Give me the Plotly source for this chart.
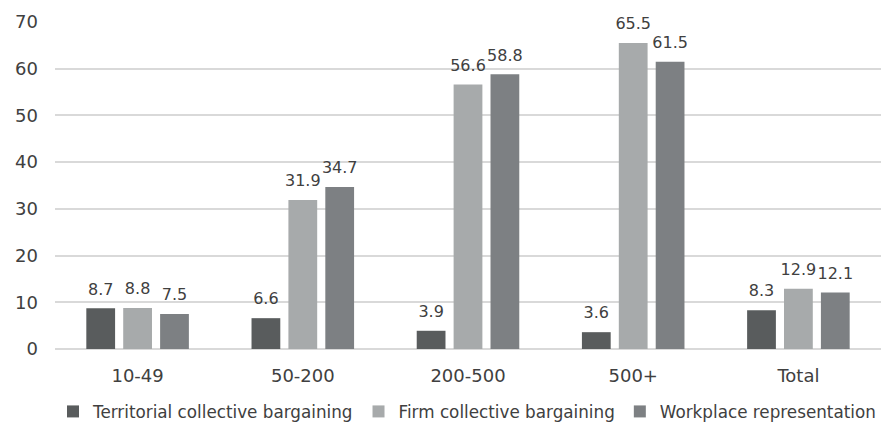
import plotly.graph_objects as go

categories = ["10-49", "50-200", "200-500", "500+", "Total"]
territorial = [8.7, 6.6, 3.9, 3.6, 8.3]
firm = [8.8, 31.9, 56.6, 65.5, 12.9]
workplace = [7.5, 34.7, 58.8, 61.5, 12.1]
series_names = ["Territorial collective bargaining", "Firm collective bargaining", "Workplace representation"]
colors = ["#595c5d", "#a7aaab", "#7d8083"]

font_family = "DejaVu Sans, Noto Sans, sans-serif"
text_color = "#404040"

fig = go.Figure()
for i, (name, vals, col) in enumerate(zip(series_names, [territorial, firm, workplace], colors)):
    fig.add_trace(go.Bar(
        x=categories, y=vals, name=name,
        marker=dict(color=col, line=dict(width=0)),
        offsetgroup=str(i), hoverinfo="skip",
    ))
for i, vals in enumerate([territorial, firm, workplace]):
    fig.add_trace(go.Scatter(
        x=categories, y=vals, mode="markers+text",
        marker=dict(size=14, color="rgba(0,0,0,0)"),
        text=[f"{v:.1f}" for v in vals],
        textposition="top center",
        textfont=dict(size=16, color=text_color, family=font_family),
        offsetgroup=str(i), showlegend=False, hoverinfo="skip",
        cliponaxis=False,
    ))

fig.update_layout(
    width=881, height=429,
    margin=dict(l=55, r=0, t=22, b=79),
    paper_bgcolor="white", plot_bgcolor="white",
    barmode="group", bargap=0.33, bargroupgap=0.22,
    scattermode="group", scattergap=0.33,
    font=dict(family=font_family, color=text_color, size=17),
    showlegend=True,
    legend=dict(orientation="h", x=0.5, xanchor="center", y=-0.19, yanchor="middle",
                font=dict(size=16.8, color=text_color), itemwidth=30,
                tracegroupgap=0, traceorder="normal"),
    xaxis=dict(showgrid=False, showline=False, ticks="", automargin=False,
               ticklabelstandoff=14,
               tickfont=dict(size=18, color=text_color)),
    yaxis=dict(range=[0, 70], dtick=10, showgrid=True, gridcolor="#d9d9d9", gridwidth=1.5,
               zeroline=True, zerolinecolor="#d9d9d9", zerolinewidth=1.5,
               showline=False, ticks="", ticklabelstandoff=16, automargin=False,
               tickfont=dict(size=18, color=text_color)),
)

fig.write_html("out.html", config={"displayModeBar": False},
               post_script="document.body.style.margin='0px';")
